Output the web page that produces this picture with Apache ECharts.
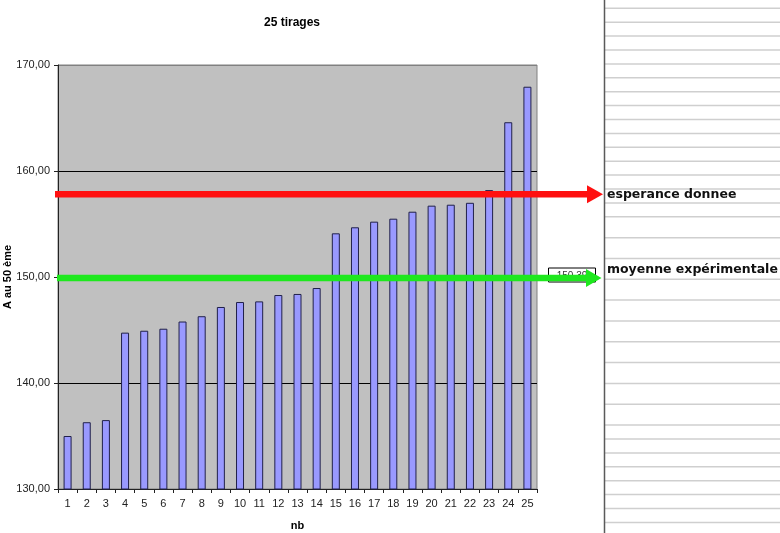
<!DOCTYPE html>
<html>
<head>
<meta charset="utf-8">
<script src="https://cdn.jsdelivr.net/npm/echarts@6/dist/echarts.min.js"></script>
<style>
html,body{margin:0;padding:0;background:#fff;}
#chart{width:780px;height:533px;}
</style>
</head>
<body>
<div id="chart"></div>
<script>
// ---- data ----
var categories = ['1','2','3','4','5','6','7','8','9','10','11','12','13','14','15','16','17','18','19','20','21','22','23','24','25'];
var values = [135.0,136.3,136.5,144.75,144.93,145.12,145.8,146.3,147.17,147.64,147.7,148.3,148.4,148.96,154.12,154.69,155.22,155.5,156.16,156.73,156.82,157.0,158.2,164.6,167.95];
var esperance = 157.8;
var moyenne = 149.9;
var esperanceLabel = 'esperance donnee';
var moyenneLabel = 'moyenne expérimentale';
var moyenneBoxText = '150,39';
var titleText = '25 tirages';
var xName = 'nb';
var yName = 'A au 50 ème';
var yMin = 130, yMax = 170, yInterval = 10;

var chart = echarts.init(document.getElementById('chart'), null, {renderer:'canvas'});
var font = 'Liberation Sans, Arial, sans-serif';

chart.setOption({
  animation:false,
  backgroundColor:'#ffffff',
  title:{
    text:titleText, left:259, top:12,
    textStyle:{fontFamily:font, fontSize:12, fontWeight:'bold', color:'#000'}
  },
  grid:{
    left:58, right:243, top:65, bottom:44,
    containLabel:false, outerBoundsMode:'none',
    show:true, backgroundColor:'#c0c0c0', borderColor:'#808080', borderWidth:1
  },
  xAxis:{
    type:'category', data:categories, boundaryGap:true,
    name:xName, nameLocation:'middle', nameGap:31, nameMoveOverlap:false,
    nameTextStyle:{fontFamily:font, fontSize:11, fontWeight:'bold', color:'#000'},
    axisLine:{lineStyle:{color:'#222', width:1}},
    axisTick:{show:true, length:4, lineStyle:{color:'#222'}},
    axisLabel:{fontFamily:font, fontSize:11, color:'#222', margin:9, interval:0},
    splitLine:{show:false}
  },
  yAxis:{
    type:'value', min:yMin, max:yMax, interval:yInterval,
    name:yName, nameLocation:'middle', nameGap:45, nameRotate:90, nameMoveOverlap:false,
    nameTextStyle:{fontFamily:font, fontSize:11, fontWeight:'bold', color:'#000'},
    axisLine:{show:true, lineStyle:{color:'#222', width:1}},
    axisTick:{show:true, length:4, lineStyle:{color:'#222'}},
    axisLabel:{fontFamily:font, fontSize:11, color:'#222', margin:8,
      formatter:function(v){return v.toFixed(2).replace('.', ',');}},
    splitLine:{show:true, lineStyle:{color:['#000','#000','#000','#000','#808080'], width:1}}
  },
  series:[{
    type:'bar', data:values, barWidth:8,
    itemStyle:{color:'#9999ff', borderColor:'#20204a', borderWidth:1},
    z:2
  }]
});

// ---- decorations: arrows placed from the y scale, spreadsheet panel ----
var yEsp = chart.convertToPixel({yAxisIndex:0}, esperance);
var yMoy = chart.convertToPixel({yAxisIndex:0}, moyenne);

var g = [];
// spreadsheet area on the right
var panelX = 604.5;
var rowYs = [];
var yy = 8.3;
for (var i = 0; i <= 15; i++) { rowYs.push(yy + i*13.9); }
yy = rowYs[rowYs.length-1];
for (var j = 1; j <= 10; j++) { rowYs.push(yy + j*20.83); }
yy = rowYs[rowYs.length-1];
for (var k = 1; k <= 7; k++) { rowYs.push(yy + k*13.9); }
rowYs.forEach(function(ry){
  g.push({type:'line', z:1, silent:true,
    shape:{x1:panelX, y1:ry, x2:780, y2:ry},
    style:{stroke:'#cfcfcf', lineWidth:1.5}});
});
g.push({type:'line', z:1, silent:true,
  shape:{x1:panelX, y1:0, x2:panelX, y2:533},
  style:{stroke:'#5a5a5a', lineWidth:1.5}});

// small box under the green arrow
g.push({type:'rect', z:50, shape:{x:548.5, y:268, width:47, height:14},
  style:{fill:'#ffffff', stroke:'#000', lineWidth:1}});
g.push({type:'text', z:51, x:572, y:276,
  style:{text:moyenneBoxText, fill:'#333', font:'10px ' + font, align:'center', verticalAlign:'middle'}});

function arrow(x0, baseX, tipX, y, color){
  g.push({type:'line', z:100, shape:{x1:x0, y1:y, x2:baseX+1, y2:y},
    style:{stroke:color, lineWidth:6.5}});
  g.push({type:'polygon', z:100, shape:{points:[[baseX, y-9],[tipX, y],[baseX, y+9]]},
    style:{fill:color}});
}
arrow(55, 587, 603, yEsp, '#ff1010');
arrow(57, 586, 601.5, yMoy, '#1ee81e');

var labelFont = 'bold 12.5px DejaVu Sans, Verdana, sans-serif';
g.push({type:'text', z:100, x:607, y:yEsp,
  style:{text:esperanceLabel, fill:'#111', font:labelFont, verticalAlign:'middle'}});
g.push({type:'text', z:100, x:607, y:270,
  style:{text:moyenneLabel, fill:'#111', font:labelFont, verticalAlign:'middle'}});

chart.setOption({graphic:g});
</script>
</body>
</html>
